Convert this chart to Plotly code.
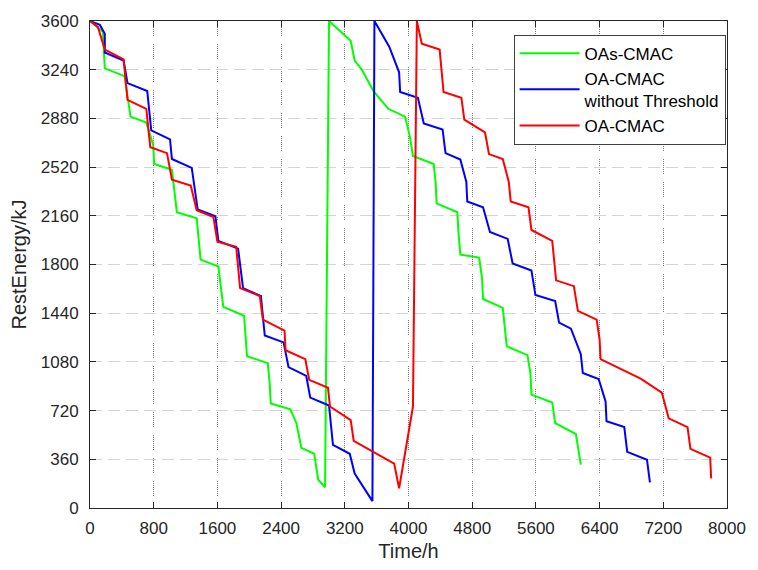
import plotly.graph_objects as go

# ---- data (Time/h, RestEnergy/kJ) ----
x_oas = [0, 161, 186, 434, 509, 707, 794, 806, 1029, 1091, 1340, 1364, 1389, 1612, 1650, 1674, 1935, 1947, 1972, 2233,
         2257, 2270, 2518, 2592, 2654, 2816, 2865, 2952, 3002, 3274, 3324, 3411, 3560, 3746, 3957, 4019, 4056, 4316, 4341, 4353,
         4614, 4626, 4651, 4887, 4924, 4936, 5184, 5234, 5494, 5532, 5544, 5805, 5842, 6102, 6164]
y_oas = [3600, 3520, 3250, 3192, 2893, 2849, 2682, 2543, 2500, 2186, 2142, 1989, 1836, 1785, 1625, 1487, 1421, 1312, 1122, 1071,
         918, 772, 729, 627, 445, 401, 211, 153, 3600, 3454, 3308, 3243, 3082, 2951, 2893, 2740, 2602, 2543, 2405, 2252,
         2186, 2048, 1873, 1851, 1698, 1545, 1479, 1195, 1130, 991, 838, 780, 627, 547, 321]

x_noth = [0, 124, 186, 186, 422, 471, 719, 769, 1005, 1029, 1278, 1352, 1575, 1612, 1860, 1922, 2146, 2195, 2431, 2493,
          2716, 2766, 3002, 3051, 3262, 3324, 3547, 3572, 3758, 3882, 3895, 4118, 4192, 4428, 4465, 4651, 4726, 4738, 4936, 5023,
          5246, 5308, 5544, 5594, 5842, 5891, 6040, 6164, 6189, 6388, 6475, 6487, 6710, 6747, 6995, 7032]
y_noth = [3600, 3571, 3505, 3367, 3308, 3141, 3082, 2791, 2725, 2580, 2514, 2208, 2157, 1975, 1917, 1625, 1567, 1275, 1224, 1042,
          976, 816, 758, 466, 401, 255, 51, 3600, 3410, 3221, 3075, 3032, 2842, 2798, 2623, 2576, 2412, 2266, 2223, 2040,
          1989, 1807, 1756, 1574, 1530, 1370, 1326, 1137, 998, 954, 787, 641, 598, 415, 357, 189]

x_oa = [0, 99, 186, 422, 471, 707, 757, 967, 1029, 1265, 1340, 1550, 1600, 1836, 1885, 2133, 2171, 2443, 2456, 2704,
        2753, 2989, 3014, 3274, 3312, 3820, 3882, 4056, 4105, 4167, 4391, 4440, 4664, 4701, 4961, 5011, 5184, 5259, 5284, 5507,
        5544, 5805, 5854, 6077, 6127, 6363, 6400, 6412, 6921, 7181, 7268, 7504, 7541, 7789, 7801]
y_oa = [3600, 3556, 3389, 3316, 3017, 2951, 2667, 2623, 2427, 2383, 2201, 2150, 1968, 1931, 1625, 1567, 1392, 1312, 1166, 1100,
        947, 889, 750, 649, 496, 328, 146, 750, 3600, 3432, 3389, 3075, 3032, 2871, 2776, 2616, 2580, 2412, 2266, 2223,
        2055, 1975, 1683, 1640, 1457, 1392, 1246, 1100, 955, 853, 663, 598, 437, 372, 219]

names = ["OAs-CMAC", "OA-CMAC<br>without Threshold", "OA-CMAC"]
colors = ["#00ff00", "#0000ff", "#ff0000"]
x_ticks = [0, 800, 1600, 2400, 3200, 4000, 4800, 5600, 6400, 7200, 8000]
y_ticks = [0, 360, 720, 1080, 1440, 1800, 2160, 2520, 2880, 3240, 3600]

FONT = "Liberation Sans, Arial, sans-serif"
fig = go.Figure()
for xs, ys, nm, c in zip([x_oas, x_noth, x_oa], [y_oas, y_noth, y_oa], names, colors):
    fig.add_trace(go.Scatter(x=xs, y=ys, mode="lines", name=nm,
                             line=dict(color=c, width=2)))

fig.update_layout(
    width=758, height=570,
    margin=dict(l=90, r=23, t=19, b=57, pad=0),
    paper_bgcolor="white", plot_bgcolor="white",
    font=dict(family=FONT, size=17, color="#262626"),
    legend=dict(x=0.665, y=0.972, xanchor="left", yanchor="top",
                bgcolor="white", bordercolor="#404040", borderwidth=1,
                font=dict(family=FONT, size=17, color="#000000"),
                itemwidth=60, tracegroupgap=0),
    xaxis=dict(range=[0, 8000], tickvals=x_ticks, ticktext=[str(v) for v in x_ticks],
               showline=True, linecolor="#262626", linewidth=1, mirror="ticks",
               ticks="inside", ticklen=6, tickcolor="#262626", ticklabelstandoff=5,
               showgrid=True, gridcolor="#7a7a7a", gridwidth=1,
               griddash="1px,1px,1px,1px,1px,1px,1px,1px,1px,1px,1px,1px,1px,1px,1px,8px",
               zeroline=False,
               title=dict(text="Time/h", font=dict(size=20, family=FONT, color="#262626"), standoff=6)),
    yaxis=dict(range=[0, 3600], tickvals=y_ticks, ticktext=[str(v) for v in y_ticks],
               showline=True, linecolor="#262626", linewidth=1, mirror="ticks",
               ticks="inside", ticklen=6, tickcolor="#262626", ticklabelstandoff=7,
               showgrid=True, gridcolor="#d4d4d4", gridwidth=1, griddash="12px,6px",
               zeroline=False,
               title=dict(text="RestEnergy/kJ", font=dict(size=20, family=FONT, color="#262626"), standoff=8)),
)

fig.write_html("out.html")
